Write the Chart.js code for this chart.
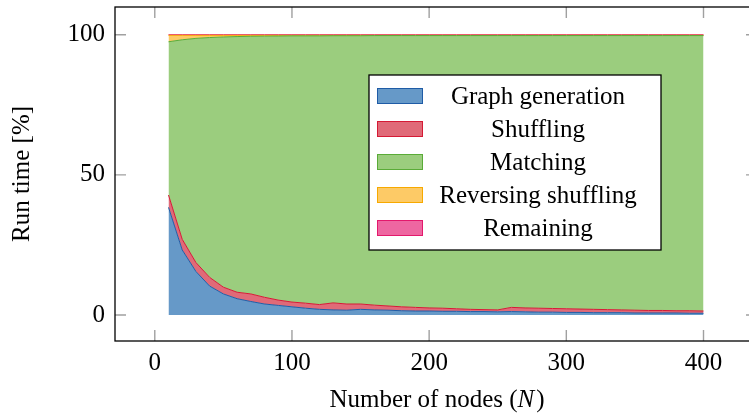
<!DOCTYPE html>
<html>
<head>
<meta charset="utf-8">
<script src="https://cdn.jsdelivr.net/npm/chart.js@4.4.1/dist/chart.umd.min.js"></script>
<style>
  html, body { margin: 0; padding: 0; background: #fff; overflow: hidden; }
  #wrap { width: 770px; height: 414px; position: relative; }
</style>
</head>
<body>
<div id="wrap"><canvas id="chart"></canvas></div>
<script>
// number of nodes N
const nodes = [10, 20, 30, 40, 50, 60, 70, 80, 90, 100,
  110, 120, 130, 140, 150, 160, 170, 180, 190, 200,
  210, 220, 230, 240, 250, 260, 270, 280, 290, 300,
  310, 320, 330, 340, 350, 360, 370, 380, 390, 400];

// share of run time in percent, per phase
const graphGeneration = [38.4, 23.2, 15.5, 10.3, 7.5, 5.8, 4.8, 3.9, 3.4, 2.9,
  2.4, 2.0, 1.8, 1.7, 2.0, 1.8, 1.7, 1.5, 1.4, 1.4,
  1.3, 1.3, 1.2, 1.2, 1.1, 1.2, 1.1, 1.0, 1.0, 0.9,
  0.9, 0.8, 0.8, 0.8, 0.7, 0.7, 0.7, 0.7, 0.6, 0.6];
const shuffling = [4.4, 3.8, 3.2, 3.1, 2.4, 2.3, 2.7, 2.4, 1.9, 1.7,
  1.8, 1.7, 2.5, 2.2, 1.9, 1.7, 1.5, 1.4, 1.3, 1.1,
  1.1, 0.9, 0.8, 0.7, 0.7, 1.5, 1.4, 1.4, 1.3, 1.3,
  1.2, 1.2, 1.1, 1.0, 1.0, 0.9, 0.9, 0.8, 0.9, 0.8];
const matching = [54.7, 71.2, 80.0, 85.6, 89.3, 91.25, 91.95, 93.2, 94.25, 95.0,
  95.4, 95.9, 95.35, 95.75, 95.75, 96.2, 96.5, 96.8, 97.0, 97.2,
  97.3, 97.5, 97.7, 97.8, 97.9, 97.0, 97.2, 97.3, 97.4, 97.5,
  97.6, 97.7, 97.8, 97.9, 98.0, 98.1, 98.1, 98.2, 98.2, 98.3];
const reversingShuffling = [2.3, 1.6, 1.1, 0.8, 0.6, 0.45, 0.35, 0.3, 0.25, 0.2,
  0.2, 0.2, 0.15, 0.15, 0.15, 0.1, 0.1, 0.1, 0.1, 0.1,
  0.1, 0.1, 0.1, 0.1, 0.1, 0.1, 0.1, 0.1, 0.1, 0.1,
  0.1, 0.1, 0.1, 0.1, 0.1, 0.1, 0.1, 0.1, 0.1, 0.1];
const remaining = [0.2, 0.2, 0.2, 0.2, 0.2, 0.2, 0.2, 0.2, 0.2, 0.2,
  0.2, 0.2, 0.2, 0.2, 0.2, 0.2, 0.2, 0.2, 0.2, 0.2,
  0.2, 0.2, 0.2, 0.2, 0.2, 0.2, 0.2, 0.2, 0.2, 0.2,
  0.2, 0.2, 0.2, 0.2, 0.2, 0.2, 0.2, 0.2, 0.2, 0.2];

const xTicks = [0, 100, 200, 300, 400];
const yTicks = [0, 50, 100];

const FONT = "'Liberation Serif', 'Times New Roman', serif";

const series = [
  { label: 'Graph generation', values: graphGeneration, fill: '#6699c8', line: '#1f5ca6' },
  { label: 'Shuffling', values: shuffling, fill: '#e06a78', line: '#d51a35' },
  { label: 'Matching', values: matching, fill: '#9bcd7e', line: '#5aab38' },
  { label: 'Reversing shuffling', values: reversingShuffling, fill: '#fdca66', line: '#f7a900' },
  { label: 'Remaining', values: remaining, fill: '#ee67a1', line: '#e3196c' },
];

const datasets = series.map((s, i) => ({
  label: s.label,
  data: nodes.map((n, j) => ({ x: n, y: s.values[j] })),
  backgroundColor: s.fill,
  borderColor: s.line,
  borderWidth: 1,
  pointRadius: 0,
  tension: 0,
  fill: i === 0 ? 'origin' : '-1',
}));

// box frame, inward ticks on all four sides, x title and the centred legend
const framePlugin = {
  id: 'frame',
  afterDraw(chart) {
    const { ctx, chartArea: a, scales } = chart;
    const len = 11;
    ctx.save();
    ctx.strokeStyle = '#a0a0a0';
    ctx.lineWidth = 1.4;
    ctx.beginPath();
    xTicks.forEach(v => {
      const px = scales.x.getPixelForValue(v);
      ctx.moveTo(px, a.bottom); ctx.lineTo(px, a.bottom - len);
      ctx.moveTo(px, a.top); ctx.lineTo(px, a.top + len);
    });
    yTicks.forEach(v => {
      const py = scales.y.getPixelForValue(v);
      ctx.moveTo(a.left, py); ctx.lineTo(a.left + len, py);
      ctx.moveTo(a.right, py); ctx.lineTo(a.right - len, py);
    });
    ctx.stroke();

    ctx.strokeStyle = '#000';
    ctx.lineWidth = 1.3;
    ctx.strokeRect(a.left, a.top, a.right - a.left, a.bottom - a.top);

    // x axis title with italic N
    ctx.fillStyle = '#000';
    ctx.textBaseline = 'middle';
    ctx.textAlign = 'left';
    const parts = [['Number of nodes (', ''], ['N', 'italic '], [')', '']];
    let total = 0;
    parts.forEach(p => { ctx.font = p[1] + '25px ' + FONT; total += ctx.measureText(p[0]).width; });
    let tx = (a.left + a.right) / 2 - total / 2;
    parts.forEach(p => {
      ctx.font = p[1] + '25px ' + FONT;
      ctx.fillText(p[0], tx, 400);
      tx += ctx.measureText(p[0]).width + (p[1] ? 2 : 0);
    });

    // legend
    const lx = 369, ly = 75, lw = 292, lh = 175;
    ctx.fillStyle = '#fff';
    ctx.fillRect(lx, ly, lw, lh);
    ctx.strokeRect(lx, ly, lw, lh);
    ctx.font = '25px ' + FONT;
    ctx.textAlign = 'center';
    chart.data.datasets.forEach((ds, i) => {
      const cy = 96 + i * 33;
      ctx.fillStyle = ds.backgroundColor;
      ctx.fillRect(377, cy - 8, 46, 16);
      ctx.strokeStyle = ds.borderColor;
      ctx.lineWidth = 1;
      ctx.strokeRect(377.5, cy - 7.5, 45, 15);
      ctx.fillStyle = '#000';
      ctx.fillText(ds.label, 538, cy + 1);
    });
    ctx.restore();
  }
};

const noEdgePadding = (scale, size) => {
  scale.paddingTop = 0;
  scale.paddingBottom = 0;
  scale.paddingLeft = 0;
  scale.paddingRight = 0;
  if (scale.isHorizontal()) scale.height = size; else scale.width = size;
};

new Chart(document.getElementById('chart'), {
  type: 'line',
  data: { datasets },
  plugins: [framePlugin],
  options: {
    responsive: true,
    maintainAspectRatio: false,
    animation: false,
    layout: { padding: { top: 7, right: 13, left: 0, bottom: 0 } },
    plugins: { legend: { display: false }, tooltip: { enabled: false } },
    scales: {
      x: {
        type: 'linear',
        min: -29,
        max: 439,
        grid: { display: false, drawTicks: false },
        border: { display: false },
        afterBuildTicks: scale => { scale.ticks = xTicks.map(v => ({ value: v })); },
        afterFit: scale => noEdgePadding(scale, 73),
        ticks: { color: '#000', padding: 7, font: { family: FONT, size: 25 } }
      },
      y: {
        stacked: true,
        min: -9.3,
        max: 109.9,
        grid: { display: false, drawTicks: false },
        border: { display: false },
        afterBuildTicks: scale => { scale.ticks = yTicks.map(v => ({ value: v })); },
        afterFit: scale => noEdgePadding(scale, 115),
        ticks: { color: '#000', padding: 10, font: { family: FONT, size: 25 } },
        title: {
          display: true,
          text: 'Run time [%]',
          color: '#000',
          padding: { top: 7, bottom: 0 },
          font: { family: FONT, size: 25 }
        }
      }
    }
  }
});
</script>
</body>
</html>
